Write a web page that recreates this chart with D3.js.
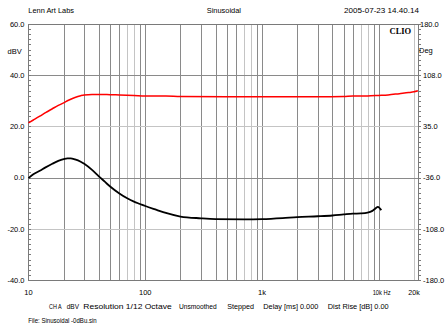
<!DOCTYPE html>
<html>
<head>
<meta charset="utf-8">
<script src="https://cdn.jsdelivr.net/npm/d3@7"></script>
<style>
  html, body { margin: 0; padding: 0; background: #ffffff; }
  svg { display: block; }
  text { font-family: "Liberation Sans", Arial, sans-serif; font-size: 7.5px; fill: #000; }
</style>
</head>
<body>
<svg id="chart" width="448" height="336"></svg>
<script>
// Frequency grid (Hz) and labels
const freqLabelValues = [10, 100, 1000, 10000, 20000];
const freqLabels = ["10", "100", "1k", "10k Hz", "20k"];
const lightGridFreqs = [70, 80, 700, 800, 7000, 8000, 20000];

// Left axis (dBV)
const levelTicks = [60, 40, 20, 0, -20, -40];
const levelLabels = ["60.0", "40.0", "20.0", "0.0", "-20.0", "-40.0"];
const lightLevelGrid = [20, -20];

// Right axis (Deg)
const phaseTicks = [180, 108, 36, -36, -108, -180];
const phaseLabels = ["180.0", "108.0", "35.0", "-36.0", "-108.0", "-180.0"];

// Black trace: frequency (Hz) / level (dBV)
const blackFreq = [10, 11, 12.5, 14, 16, 18, 20, 21.5, 23, 25, 28, 30, 35, 40, 45, 50, 60, 70, 80, 90, 100, 125, 150, 200, 300, 400, 700, 1000, 1500, 2000, 3000, 4000, 5000, 6000, 7000, 8000, 8800, 9400, 9800, 10200, 10500];
const blackLevel = [-0.2, 1.3, 2.7, 4.0, 5.4, 6.5, 7.2, 7.5, 7.5, 7.1, 6.2, 5.4, 3.0, 0.5, -1.6, -3.5, -6.2, -8.1, -9.4, -10.3, -11.1, -12.6, -13.8, -15.2, -15.9, -16.2, -16.3, -16.2, -15.8, -15.4, -15.1, -14.8, -14.4, -14.1, -14.0, -13.7, -13.0, -12.0, -11.4, -12.0, -12.7];

// Red trace: frequency (Hz) / level (dBV)
const redFreq = [10, 11, 12.5, 14, 16, 18, 20, 22, 25, 28, 30, 35, 40, 50, 60, 80, 100, 150, 200, 500, 1000, 3000, 5000, 6000, 8000, 10000, 12000, 15000, 18000, 20000, 21600];
const redLevel = [21.4, 22.5, 24.0, 25.4, 26.9, 28.2, 29.2, 30.2, 31.3, 32.0, 32.3, 32.5, 32.5, 32.4, 32.3, 32.1, 31.9, 31.9, 31.7, 31.6, 31.6, 31.6, 31.7, 31.9, 31.9, 32.1, 32.3, 32.8, 33.2, 33.5, 33.9];

// Footer settings line
const footerText = ["CH A", "dBV", "Resolution 1/12 Octave", "Unsmoothed", "Stepped", "Delay [ms] 0.000", "Dist Rise [dB] 0.00"];

const svg = d3.select("#chart");

const x = d3.scaleLog().domain([10, 20000]).range([28.5, 414]);
const y = d3.scaleLinear().domain([-40, 60]).range([280, 24]);
const yPhase = d3.scaleLinear().domain([-180, 180]).range([280, 24]);

const plotLeft = 28, plotRight = 418, plotTop = 24, plotBottom = 280;
const fMax = x.invert(plotRight);

// Squeeze a text run to a given pixel width (the small UI font is narrow)
function fit(sel, w) {
  return sel.attr("textLength", w).attr("lengthAdjust", "spacingAndGlyphs");
}

// Vertical grid: 1..9 steps in every decade, plus 20 kHz
const gridFreqs = [];
for (let dec = 10; dec <= 10000; dec *= 10) {
  for (let m = 1; m <= 9; m++) {
    const f = dec * m;
    if (f > 10 && f <= 20000) gridFreqs.push(f);
  }
}
gridFreqs.push(20000);
const uniqGrid = Array.from(new Set(gridFreqs));

const grid = svg.append("g").attr("shape-rendering", "crispEdges");
grid.selectAll("line.v").data(uniqGrid).join("line")
  .attr("x1", d => Math.round(x(d)) + 0.5).attr("x2", d => Math.round(x(d)) + 0.5)
  .attr("y1", plotTop).attr("y2", plotBottom)
  .attr("stroke", d => lightGridFreqs.includes(d) ? "#c4c4c4" : "#8a8a8a")
  .attr("stroke-width", 1);

grid.selectAll("line.h").data(levelTicks.filter(v => v > -40 && v < 60)).join("line")
  .attr("x1", plotLeft).attr("x2", plotRight)
  .attr("y1", d => Math.round(y(d)) + 0.5).attr("y2", d => Math.round(y(d)) + 0.5)
  .attr("stroke", d => lightLevelGrid.includes(d) ? "#c4c4c4" : "#8a8a8a")
  .attr("stroke-width", 1);

// Frame
grid.append("rect")
  .attr("x", plotLeft + 0.5).attr("y", plotTop + 0.5)
  .attr("width", plotRight - plotLeft).attr("height", plotBottom - plotTop)
  .attr("fill", "none").attr("stroke", "#7a7a7a").attr("stroke-width", 1);

// Minor ticks: left inside, right outside, every 2 dB
const minor = d3.range(-40, 60.01, 2);
grid.selectAll("line.lt").data(minor).join("line")
  .attr("x1", plotLeft).attr("x2", plotLeft + 3)
  .attr("y1", d => Math.round(y(d)) + 0.5).attr("y2", d => Math.round(y(d)) + 0.5)
  .attr("stroke", "#7a7a7a");
grid.selectAll("line.rt").data(minor).join("line")
  .attr("x1", plotRight).attr("x2", plotRight + 3)
  .attr("y1", d => Math.round(y(d)) + 0.5).attr("y2", d => Math.round(y(d)) + 0.5)
  .attr("stroke", "#7a7a7a");

// Traces
const line = d3.line().x(d => x(d[0])).y(d => y(d[1])).curve(d3.curveMonotoneX);
svg.append("path")
  .datum(redFreq.map((f, i) => [Math.min(f, fMax), redLevel[i]]))
  .attr("d", line).attr("fill", "none")
  .attr("stroke", "#ff0000").attr("stroke-width", 1.5);
svg.append("path")
  .datum(blackFreq.map((f, i) => [f, blackLevel[i]]))
  .attr("d", line).attr("fill", "none")
  .attr("stroke", "#000000").attr("stroke-width", 1.8);

// Left axis labels
svg.selectAll("text.yl").data(levelTicks).join("text")
  .attr("x", 24.5).attr("y", d => y(d) + 2.7)
  .attr("text-anchor", "end")
  .text((d, i) => levelLabels[i]);
svg.append("text").attr("x", 7.5).attr("y", 54.3).text("dBV");

// Right axis labels
svg.selectAll("text.yr").data(phaseTicks).join("text")
  .attr("x", d => d === 180 ? 420 : 423)
  .attr("y", d => yPhase(d) + 2.7)
  .text((d, i) => phaseLabels[i]);
svg.append("text").attr("x", 419).attr("y", 52.5).text("Deg");

// Frequency labels; the 10k label carries the unit after it
svg.selectAll("text.xl").data(freqLabelValues).join("text")
  .attr("x", d => d === 10000 ? x(d) - 6.2 : x(d)).attr("y", 295)
  .attr("text-anchor", d => d === 10000 ? "start" : "middle")
  .text((d, i) => freqLabels[i])
  .each(function (d) {
    if (d === 10000) fit(d3.select(this), 18);
    if (d === 20000) fit(d3.select(this), 11.5);
  });

// Header
fit(svg.append("text").attr("x", 28.3).attr("y", 12.7).text("Lenn Art Labs"), 45.7);
fit(svg.append("text").attr("x", 206.7).attr("y", 12.7).text("Sinusoidal"), 34.3);
fit(svg.append("text").attr("x", 344).attr("y", 12.7).text("2005-07-23 14.40.14"), 75);
svg.append("text").attr("x", 389.5).attr("y", 33.5)
  .style("font-family", "'Liberation Serif', 'Times New Roman', serif")
  .style("font-weight", "bold").style("font-size", "8.5px")
  .text("CLIO");

// Footer
const footerX = [49, 66.7, 83.3, 179, 227.3, 263.3, 327.7];
const footerW = [12.7, 12.3, 88.4, 37.7, 26.7, 55, 61];
svg.selectAll("text.ft").data(footerText).join("text")
  .attr("x", (d, i) => footerX[i]).attr("y", 308.7)
  .attr("textLength", (d, i) => footerW[i]).attr("lengthAdjust", "spacingAndGlyphs")
  .text(d => d);
fit(svg.append("text").attr("x", 28.3).attr("y", 322.7).text("File: Sinusoidal -0dBu.sin"), 68.4);
</script>
</body>
</html>
